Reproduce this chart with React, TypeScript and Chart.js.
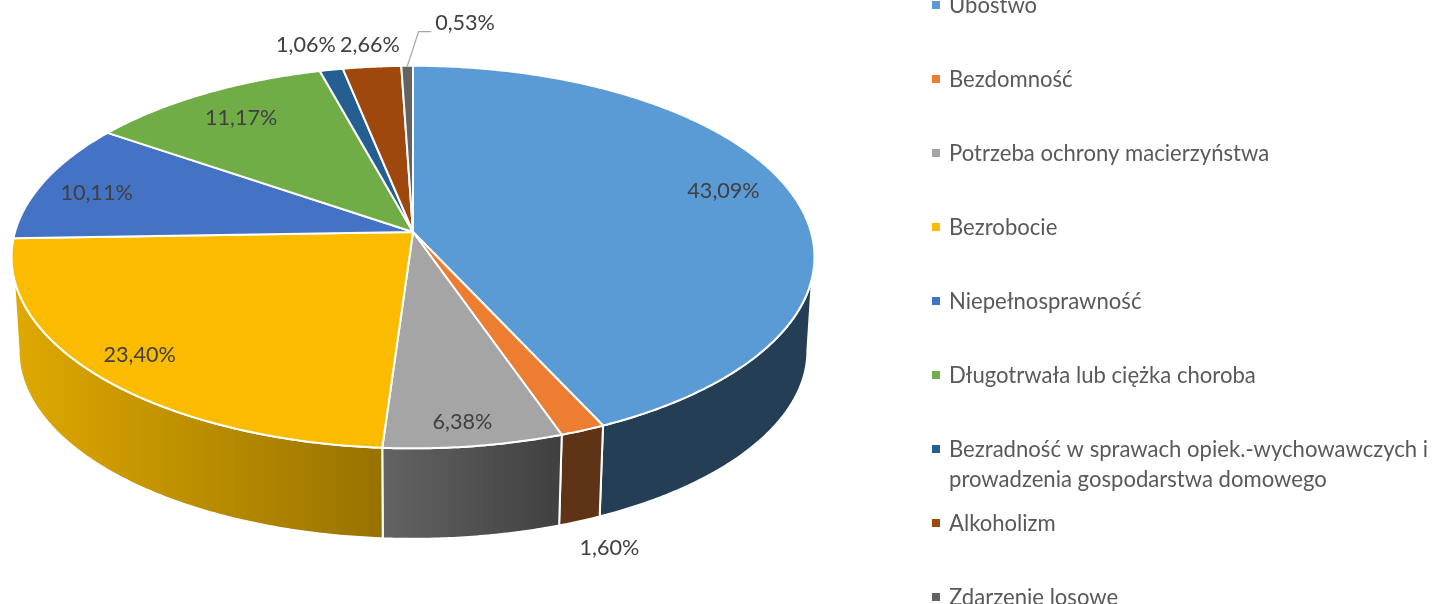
import React, { useEffect, useRef } from "react";
import { Chart, registerables } from "chart.js";

Chart.register(...registerables);

const categories = [
  "Ubóstwo",
  "Bezdomność",
  "Potrzeba ochrony macierzyństwa",
  "Bezrobocie",
  "Niepełnosprawność",
  "Długotrwała lub ciężka choroba",
  "Bezradność w sprawach opiek.-wychowawczych i\nprowadzenia gospodarstwa domowego",
  "Alkoholizm",
  "Zdarzenie losowe",
];
const shares = [43.09, 1.6, 6.38, 23.4, 10.11, 11.17, 1.06, 2.66, 0.53];
const topColors = ["#5B9BD5", "#ED7D31", "#A5A5A5", "#FBBC00", "#4472C4", "#70AD47", "#255E91", "#9E480E", "#636363"];
const wallFrom = ["#243F55", "#5F3315", "#636363", "#DFA900", "", "", "", "", ""];
const wallTo = ["#243F55", "#5F3315", "#404040", "#977200", "", "", "", "", ""];
// label spot per slice: radius fraction and angle shift (deg) from the slice's mid-angle
const labelRadius = [0.834, 1.433, 0.896, 0.874, 0.845, 0.81, 1.187, 1.1525, 1.3127];
const labelShift = [-3.2, 5.6, 0.6, 0.4, -1.6, 0, -1.73, 0.5, 7.65];

const FONT = "Lato, sans-serif";
const LEGEND_SIZE = 22.1;
const VALUE_SIZE = 21.6;

// perspective projection of the pie disc
const K = 0.131;
const TOP = { cx: 413, cy: 232, q: 398, p: 188 };
const BOTTOM = { cx: 413, cy: 326.2, q: 391, p: 184.8 };
const RAD = Math.PI / 180;

type Face = typeof TOP;
const project = (f: Face, r: number, deg: number): [number, number] => {
  const u = r * Math.sin(deg * RAD);
  const v = -r * Math.cos(deg * RAD);
  const d = 1 - K * v;
  return [f.cx + (f.q * u) / d, f.cy + (f.p * v) / d];
};

const arcPoints = (f: Face, from: number, to: number) => {
  const n = Math.max(2, Math.ceil(Math.abs(to - from) / 0.5));
  const pts: [number, number][] = [];
  for (let i = 0; i <= n; i++) pts.push(project(f, 1, from + ((to - from) * i) / n));
  return pts;
};

const trace = (ctx: CanvasRenderingContext2D, pts: [number, number][]) => {
  ctx.beginPath();
  pts.forEach(([x, y], i) => (i ? ctx.lineTo(x, y) : ctx.moveTo(x, y)));
  ctx.closePath();
};

const pie3d = {
  id: "pie3d",
  beforeDatasetDraw(chart: any) {
    const ctx: CanvasRenderingContext2D = chart.ctx;
    const arcs = chart.getDatasetMeta(0).data;
    const spans = arcs.map((a: any) => [(a.startAngle + Math.PI / 2) / RAD, (a.endAngle + Math.PI / 2) / RAD]);
    ctx.save();
    ctx.lineJoin = "round";

    // side wall
    spans.forEach(([s, e]: number[], i: number) => {
      const topLo = Math.max(s, 103.7);
      const topHi = Math.min(e, 256.3);
      const botLo = Math.max(s, 97.5);
      const botHi = Math.min(e, 262.5);
      if (botLo >= botHi) return;
      const pts = [...arcPoints(TOP, topLo, topHi), ...arcPoints(BOTTOM, botHi, botLo)];
      const xs = pts.map((p) => p[0]);
      const g = ctx.createLinearGradient(Math.min(...xs), 0, Math.max(...xs), 0);
      g.addColorStop(0, wallFrom[i]);
      g.addColorStop(1, wallTo[i]);
      trace(ctx, pts);
      ctx.fillStyle = g;
      ctx.fill();
      ctx.strokeStyle = "#FFFFFF";
      ctx.lineWidth = 2;
      ctx.stroke();
    });

    // top face
    spans.forEach(([s, e]: number[], i: number) => {
      trace(ctx, [[TOP.cx, TOP.cy], ...arcPoints(TOP, s, e)]);
      ctx.fillStyle = topColors[i];
      ctx.fill();
      ctx.strokeStyle = "#FFFFFF";
      ctx.lineWidth = 2;
      ctx.stroke();
    });

    // leader of the last slice
    const last = spans.length - 1;
    const [sx, sy] = project(TOP, 0.995, (spans[last][0] + spans[last][1]) / 2);
    ctx.beginPath();
    ctx.moveTo(sx, sy);
    ctx.lineTo(sx + 11.5, sy - 35);
    ctx.lineTo(sx + 24, sy - 35);
    ctx.strokeStyle = "#A6A6A6";
    ctx.lineWidth = 1.2;
    ctx.stroke();

    // value labels
    ctx.font = `${VALUE_SIZE}px ${FONT}`;
    ctx.fillStyle = "#404040";
    ctx.textAlign = "center";
    ctx.textBaseline = "middle";
    spans.forEach(([s, e]: number[], i: number) => {
      const [x, y] = project(TOP, labelRadius[i], (s + e) / 2 + labelShift[i]);
      ctx.fillText(shares[i].toFixed(2).replace(".", ",") + "%", x, y + 0.4);
    });

    // legend
    ctx.font = `${LEGEND_SIZE}px ${FONT}`;
    ctx.textAlign = "left";
    categories.forEach((name, i) => {
      const y = 5 + i * 74;
      ctx.fillStyle = topColors[i];
      ctx.fillRect(932, y - 4, 8, 8);
      ctx.fillStyle = "#595959";
      name.split("\n").forEach((line, j) => ctx.fillText(line, 949, y + 0.4 + j * 30));
    });
    ctx.restore();
    return false;
  },
};

export default function App() {
  const ref = useRef<HTMLCanvasElement>(null);
  useEffect(() => {
    document.body.style.margin = "0";
    const chart = new Chart(ref.current!, {
      type: "pie",
      data: {
        labels: categories,
        datasets: [{ data: shares, backgroundColor: topColors, borderColor: "#FFFFFF", borderWidth: 2 }],
      },
      options: {
        animation: false,
        responsive: false,
        plugins: { legend: { display: false }, tooltip: { enabled: false } },
      },
      plugins: [pie3d],
    } as any);
    return () => chart.destroy();
  }, []);
  return <canvas ref={ref} width={1432} height={604} style={{ display: "block" }} />;
}
